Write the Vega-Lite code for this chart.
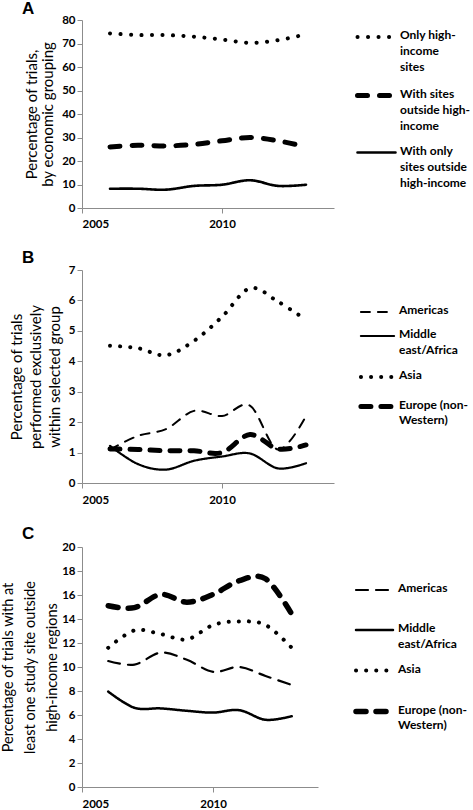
{
  "$schema": "https://vega.github.io/schema/vega-lite/v6.json",
  "padding": {"left": 0, "top": 0, "right": 0, "bottom": 0},
  "background": "white",
  "spacing": 19,
  "resolve": {"scale": {"strokeDash": "independent", "strokeWidth": "independent"}, "legend": {"strokeDash": "independent", "strokeWidth": "independent"}},
  "config": {
    "view": {"stroke": null},
    "font": "Lato",
    "axis": {
      "grid": false,
      "domainColor": "#8c8c8c",
      "tickColor": "#8c8c8c",
      "tickSize": 5,
      "labelColor": "#000000",
      "labelFont": "Lato",
      "labelFontSize": 11.5,
      "labelFontWeight": "bold",
      "titleFont": "Lato",
      "titleFontSize": 15,
      "titleFontWeight": "normal",
      "titleColor": "#000000"
    },
    "legend": {
      "labelFont": "Lato",
      "labelFontSize": 12,
      "labelColor": "#000000",
      "labelFontWeight": "bold",
      "symbolType": "stroke",
      "symbolStrokeColor": "#000000",
      "labelOffset": 2,
      "labelLimit": 200
    },
    "title": {"font": "Liberation Sans", "fontSize": 17, "fontWeight": "bold", "anchor": "start", "frame": "group", "dx": -60, "offset": -3, "color": "#000000"}
  },
  "datasets": {
    "a": [
      {"g": "Only high-income sites", "year": 2006, "v": 74.3},
      {"g": "Only high-income sites", "year": 2007, "v": 73.6},
      {"g": "Only high-income sites", "year": 2008, "v": 73.6},
      {"g": "Only high-income sites", "year": 2009, "v": 72.9},
      {"g": "Only high-income sites", "year": 2010, "v": 71.7},
      {"g": "Only high-income sites", "year": 2011, "v": 70.3},
      {"g": "Only high-income sites", "year": 2012, "v": 71.4},
      {"g": "Only high-income sites", "year": 2013, "v": 73.9},
      {"g": "With sites outside high-income", "year": 2006, "v": 26.0},
      {"g": "With sites outside high-income", "year": 2007, "v": 26.7},
      {"g": "With sites outside high-income", "year": 2008, "v": 26.4},
      {"g": "With sites outside high-income", "year": 2009, "v": 27.1},
      {"g": "With sites outside high-income", "year": 2010, "v": 28.6},
      {"g": "With sites outside high-income", "year": 2011, "v": 30.0},
      {"g": "With sites outside high-income", "year": 2012, "v": 28.6},
      {"g": "With sites outside high-income", "year": 2013, "v": 26.0},
      {"g": "With only sites outside high-income", "year": 2006, "v": 8.2},
      {"g": "With only sites outside high-income", "year": 2007, "v": 8.2},
      {"g": "With only sites outside high-income", "year": 2008, "v": 7.8},
      {"g": "With only sites outside high-income", "year": 2009, "v": 9.4},
      {"g": "With only sites outside high-income", "year": 2010, "v": 9.9},
      {"g": "With only sites outside high-income", "year": 2011, "v": 11.8},
      {"g": "With only sites outside high-income", "year": 2012, "v": 9.4},
      {"g": "With only sites outside high-income", "year": 2013, "v": 9.9}
    ],
    "b": [
      {"g": "Americas", "year": 2006, "v": 1.1},
      {"g": "Americas", "year": 2007, "v": 1.55},
      {"g": "Americas", "year": 2008, "v": 1.77},
      {"g": "Americas", "year": 2009, "v": 2.37},
      {"g": "Americas", "year": 2010, "v": 2.2},
      {"g": "Americas", "year": 2011, "v": 2.54},
      {"g": "Americas", "year": 2012, "v": 1.1},
      {"g": "Americas", "year": 2013, "v": 2.2},
      {"g": "Middle east/Africa", "year": 2006, "v": 1.22},
      {"g": "Middle east/Africa", "year": 2007, "v": 0.62},
      {"g": "Middle east/Africa", "year": 2008, "v": 0.44},
      {"g": "Middle east/Africa", "year": 2009, "v": 0.73},
      {"g": "Middle east/Africa", "year": 2010, "v": 0.87},
      {"g": "Middle east/Africa", "year": 2011, "v": 0.97},
      {"g": "Middle east/Africa", "year": 2012, "v": 0.48},
      {"g": "Middle east/Africa", "year": 2013, "v": 0.65},
      {"g": "Asia", "year": 2006, "v": 4.51},
      {"g": "Asia", "year": 2007, "v": 4.43},
      {"g": "Asia", "year": 2008, "v": 4.2},
      {"g": "Asia", "year": 2009, "v": 4.67},
      {"g": "Asia", "year": 2010, "v": 5.46},
      {"g": "Asia", "year": 2011, "v": 6.4},
      {"g": "Asia", "year": 2012, "v": 5.96},
      {"g": "Asia", "year": 2013, "v": 5.36},
      {"g": "Europe (non-Western)", "year": 2006, "v": 1.12},
      {"g": "Europe (non-Western)", "year": 2007, "v": 1.1},
      {"g": "Europe (non-Western)", "year": 2008, "v": 1.06},
      {"g": "Europe (non-Western)", "year": 2009, "v": 1.06},
      {"g": "Europe (non-Western)", "year": 2010, "v": 1.0},
      {"g": "Europe (non-Western)", "year": 2011, "v": 1.59},
      {"g": "Europe (non-Western)", "year": 2012, "v": 1.12},
      {"g": "Europe (non-Western)", "year": 2013, "v": 1.25}
    ],
    "c": [
      {"g": "Americas", "year": 2006, "v": 10.5},
      {"g": "Americas", "year": 2007, "v": 10.2},
      {"g": "Americas", "year": 2008, "v": 11.2},
      {"g": "Americas", "year": 2009, "v": 10.6},
      {"g": "Americas", "year": 2010, "v": 9.6},
      {"g": "Americas", "year": 2011, "v": 10.0},
      {"g": "Americas", "year": 2012, "v": 9.25},
      {"g": "Americas", "year": 2013, "v": 8.5},
      {"g": "Middle east/Africa", "year": 2006, "v": 7.95},
      {"g": "Middle east/Africa", "year": 2007, "v": 6.6},
      {"g": "Middle east/Africa", "year": 2008, "v": 6.55},
      {"g": "Middle east/Africa", "year": 2009, "v": 6.35},
      {"g": "Middle east/Africa", "year": 2010, "v": 6.2},
      {"g": "Middle east/Africa", "year": 2011, "v": 6.4},
      {"g": "Middle east/Africa", "year": 2012, "v": 5.6},
      {"g": "Middle east/Africa", "year": 2013, "v": 5.9},
      {"g": "Asia", "year": 2006, "v": 11.6},
      {"g": "Asia", "year": 2007, "v": 13.05},
      {"g": "Asia", "year": 2008, "v": 12.75},
      {"g": "Asia", "year": 2009, "v": 12.3},
      {"g": "Asia", "year": 2010, "v": 13.5},
      {"g": "Asia", "year": 2011, "v": 13.8},
      {"g": "Asia", "year": 2012, "v": 13.5},
      {"g": "Asia", "year": 2013, "v": 11.6},
      {"g": "Europe (non-Western)", "year": 2006, "v": 15.1},
      {"g": "Europe (non-Western)", "year": 2007, "v": 14.95},
      {"g": "Europe (non-Western)", "year": 2008, "v": 16.05},
      {"g": "Europe (non-Western)", "year": 2009, "v": 15.4},
      {"g": "Europe (non-Western)", "year": 2010, "v": 16.05},
      {"g": "Europe (non-Western)", "year": 2011, "v": 17.2},
      {"g": "Europe (non-Western)", "year": 2012, "v": 17.35},
      {"g": "Europe (non-Western)", "year": 2013, "v": 14.4}
    ]
  },
  "vconcat": [
    {
      "title": {"text": "A", "offset": -4},
      "width": 252,
      "height": 188,
      "data": {"name": "a"},
      "mark": {"type": "line", "interpolate": "cardinal", "strokeCap": "round", "color": "#000000"},
      "encoding": {
        "x": {"field": "year", "type": "quantitative", "scale": {"domain": [2005, 2014], "nice": false, "zero": false},
              "axis": {"values": [2005, 2010], "format": "d", "title": null, "labelPadding": 5}},
        "y": {"field": "v", "type": "quantitative", "scale": {"domain": [0, 80], "nice": false},
              "axis": {"values": [0, 10, 20, 30, 40, 50, 60, 70, 80], "title": ["Percentage of trials,", "by economic grouping"], "titleLineHeight": 16, "titlePadding": 6}},
        "strokeDash": {"field": "g", "type": "nominal",
          "scale": {"type": "ordinal", "domain": ["Only high-income sites", "With sites outside high-income", "With only sites outside high-income"], "range": [[0.1, 10.4], [10, 12], [1, 0]]},
          "legend": {"title": null, "orient": "none", "legendX": 273, "legendY": -4, "symbolSize": 1444, "rowPadding": -13,
            "labelExpr": "datum.label == 'Only high-income sites' ? ['Only high-', 'income', 'sites'] : datum.label == 'With sites outside high-income' ? ['With sites', 'outside high-', 'income'] : ['With only', 'sites outside', 'high-income']",
            "labelBaseline": "top",
            "encode": {"labels": {"update": {"lineHeight": {"value": 16.2}, "dy": {"value": -7}}}, "symbols": {"update": {"strokeCap": {"value": "round"}}}}}},
        "strokeWidth": {"field": "g", "type": "nominal",
          "scale": {"type": "ordinal", "domain": ["Only high-income sites", "With sites outside high-income", "With only sites outside high-income"], "range": [4, 5, 2.6]},
          "legend": {"title": null, "orient": "none", "legendX": 273, "legendY": -4, "symbolSize": 1444, "rowPadding": -13,
            "labelExpr": "datum.label == 'Only high-income sites' ? ['Only high-', 'income', 'sites'] : datum.label == 'With sites outside high-income' ? ['With sites', 'outside high-', 'income'] : ['With only', 'sites outside', 'high-income']",
            "labelBaseline": "top",
            "encode": {"labels": {"update": {"lineHeight": {"value": 16.2}, "dy": {"value": -7}}}, "symbols": {"update": {"strokeCap": {"value": "round"}}}}}}
      }
    },
    {
      "title": {"text": "B"},
      "width": 252,
      "height": 213,
      "data": {"name": "b"},
      "mark": {"type": "line", "interpolate": "cardinal", "strokeCap": "round", "color": "#000000"},
      "encoding": {
        "x": {"field": "year", "type": "quantitative", "scale": {"domain": [2005, 2014], "nice": false, "zero": false},
              "axis": {"values": [2005, 2010], "format": "d", "title": null, "labelPadding": 6}},
        "y": {"field": "v", "type": "quantitative", "scale": {"domain": [0, 7], "nice": false},
              "axis": {"values": [0, 1, 2, 3, 4, 5, 6, 7], "title": ["Percentage of trials", "performed exclusively", "within selected group"], "titleLineHeight": 19, "titlePadding": 6}},
        "strokeDash": {"field": "g", "type": "nominal",
          "scale": {"type": "ordinal", "domain": ["Americas", "Middle east/Africa", "Asia", "Europe (non-Western)"], "range": [[9, 8], [1, 0], [0.1, 10], [10, 10]]},
          "legend": {"title": null, "orient": "none", "legendX": 276, "legendY": 24, "symbolSize": 1100, "rowPadding": 2,
            "labelExpr": "datum.label == 'Middle east/Africa' ? ['Middle', 'east/Africa'] : datum.label == 'Europe (non-Western)' ? ['Europe (non-', 'Western)'] : datum.label",
            "labelBaseline": "top",
            "encode": {"labels": {"update": {"lineHeight": {"value": 15.5}, "dy": {"value": -7}}}, "symbols": {"update": {"strokeCap": {"value": "round"}}}}}},
        "strokeWidth": {"field": "g", "type": "nominal",
          "scale": {"type": "ordinal", "domain": ["Americas", "Middle east/Africa", "Asia", "Europe (non-Western)"], "range": [2, 2.2, 4, 5]},
          "legend": {"title": null, "orient": "none", "legendX": 276, "legendY": 24, "symbolSize": 1100, "rowPadding": 2,
            "labelExpr": "datum.label == 'Middle east/Africa' ? ['Middle', 'east/Africa'] : datum.label == 'Europe (non-Western)' ? ['Europe (non-', 'Western)'] : datum.label",
            "labelBaseline": "top",
            "encode": {"labels": {"update": {"lineHeight": {"value": 15.5}, "dy": {"value": -7}}}, "symbols": {"update": {"strokeCap": {"value": "round"}}}}}}
      }
    },
    {
      "title": {"text": "C", "offset": -2},
      "width": 236,
      "height": 240,
      "data": {"name": "c"},
      "mark": {"type": "line", "interpolate": "cardinal", "strokeCap": "round", "color": "#000000"},
      "encoding": {
        "x": {"field": "year", "type": "quantitative", "scale": {"domain": [2005, 2014], "nice": false, "zero": false},
              "axis": {"values": [2005, 2010], "format": "d", "title": null, "labelPadding": 6}},
        "y": {"field": "v", "type": "quantitative", "scale": {"domain": [0, 20], "nice": false},
              "axis": {"values": [0, 2, 4, 6, 8, 10, 12, 14, 16, 18, 20], "title": ["Percentage of trials with at", "least one study site outside", "high-income regions"], "titleLineHeight": 22, "titleFontSize": 14.5, "titlePadding": 2}},
        "strokeDash": {"field": "g", "type": "nominal",
          "scale": {"type": "ordinal", "domain": ["Americas", "Middle east/Africa", "Asia", "Europe (non-Western)"], "range": [[12, 8], [1, 0], [0.1, 10], [10, 10]]},
          "legend": {"title": null, "orient": "none", "legendX": 271, "legendY": 23, "symbolSize": 1369, "rowPadding": -8,
            "labelExpr": "datum.label == 'Middle east/Africa' ? ['Middle', 'east/Africa'] : datum.label == 'Europe (non-Western)' ? ['Europe (non-', 'Western)'] : [datum.label, '']",
            "labelBaseline": "top",
            "encode": {"labels": {"update": {"lineHeight": {"value": 15.5}, "dy": {"value": -7}}}, "symbols": {"update": {"strokeCap": {"value": "round"}}}}}},
        "strokeWidth": {"field": "g", "type": "nominal",
          "scale": {"type": "ordinal", "domain": ["Americas", "Middle east/Africa", "Asia", "Europe (non-Western)"], "range": [2.2, 2.5, 4, 5.5]},
          "legend": {"title": null, "orient": "none", "legendX": 271, "legendY": 23, "symbolSize": 1369, "rowPadding": -8,
            "labelExpr": "datum.label == 'Middle east/Africa' ? ['Middle', 'east/Africa'] : datum.label == 'Europe (non-Western)' ? ['Europe (non-', 'Western)'] : [datum.label, '']",
            "labelBaseline": "top",
            "encode": {"labels": {"update": {"lineHeight": {"value": 15.5}, "dy": {"value": -7}}}, "symbols": {"update": {"strokeCap": {"value": "round"}}}}}}
      }
    }
  ]
}
